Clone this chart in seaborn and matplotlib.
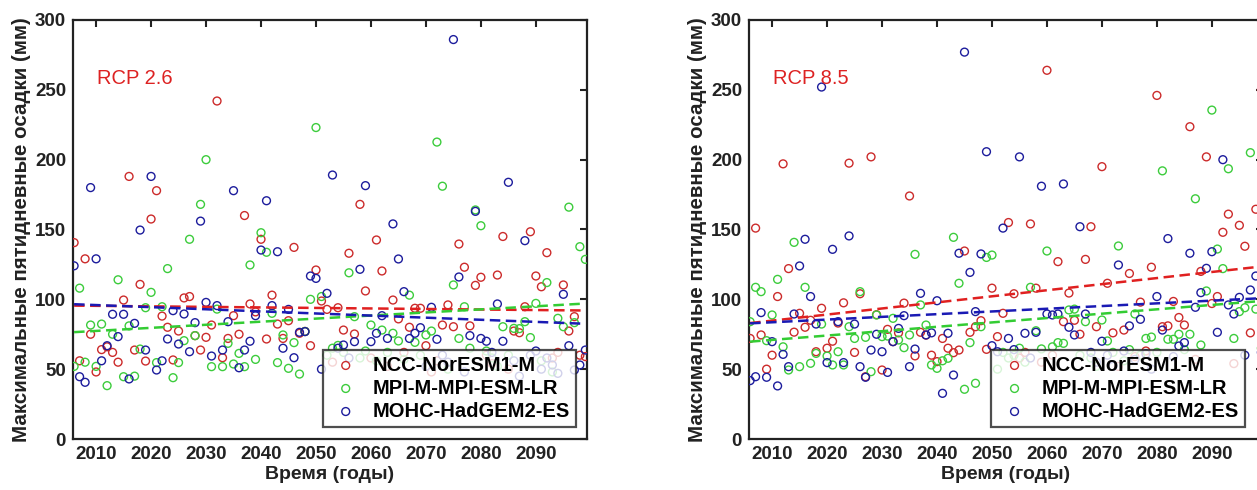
import numpy as np
import pandas as pd
import matplotlib
matplotlib.use("Agg")
import matplotlib.pyplot as plt
import seaborn as sns

# ---------------- data ----------------
years = list(range(2006, 2100))
models = ["NCC-NorESM1-M", "MPI-M-MPI-ESM-LR", "MOHC-HadGEM2-ES"]

rcp26_ncc = [140.6, 56, 129, 75, 48, 64, 66, 62, 55, 99.5, 188, 63.7, 110.7, 55.8, 157.5, 177.8, 88, 80, 56.6, 77.3,
             101, 102, 74, 63.7, 72.8, 81.6, 242, 58.2, 72, 88.3, 75, 160, 96.7, 91, 143, 71.6, 103, 82.3, 72, 84.7,
             137.2, 75.7, 77, 66.8, 121, 98.8, 92.8, 55, 94, 78, 133, 75.2, 168, 106, 58, 142.5, 120.3, 52, 99.5, 86,
             62, 80, 93.6, 93.6, 66.8, 48, 56, 81.6, 96, 80.4, 139.6, 123, 81, 110, 115.8, 60, 54, 117.4, 145, 50,
             77.3, 76.1, 94.7, 148.4, 116.7, 109, 133.4, 58, 62, 110.3, 77.3, 87.6, 60, 59]
rcp26_mpi = [52, 108, 55, 81.6, 52, 82.3, 38.2, 75, 114, 44.6, 81, 45, 64.4, 94, 105, 54.7, 94.7, 122, 43.9, 54.7,
             70.4, 143, 74, 168, 200, 51.8, 93, 51.8, 68.5, 53.7, 61.3, 51.8, 124.6, 57, 147.7, 133.7, 90, 54.7, 74.5, 50.6,
             69, 46.5, 77, 100, 223, 102, 60, 65, 67, 62, 119, 87.6, 58, 63, 81.6, 56, 78, 62, 75.7, 70.2,
             57, 103, 69.2, 60, 74.5, 77.3, 212.6, 181, 50, 110.3, 72, 94.7, 65, 164, 152.7, 63, 58, 52, 80.4, 60,
             79.2, 79, 84, 72.6, 97.1, 56, 112, 48, 86.4, 80.4, 166, 83.3, 137.7, 128.6]
rcp26_mohc = [124, 44.6, 40.6, 180, 129, 56, 66.8, 89.3, 73.3, 89.3, 43, 82.8, 149.6, 63.7, 188, 49.4, 56, 71.6, 91.9, 68,
              89.5, 62.5, 83.3, 156, 97.8, 59.4, 95.5, 63.7, 84, 177.8, 51, 63.7, 70, 88.3, 135.3, 170.6, 95.5, 134.1, 65, 92.8,
              58.2, 76.4, 76.9, 116.7, 115, 50, 104.3, 189, 65, 67.3, 58, 69.7, 121.5, 181.4, 69.7, 75.7, 88.3, 72, 154, 128.9,
              105.5, 72, 75.7, 79.7, 52, 94.3, 71.4, 60, 55, 286, 116, 48, 74, 163, 72, 70, 62, 96.7, 70, 183.8,
              56, 45, 142, 60, 63, 50, 58, 53, 47, 103.6, 66.8, 49.4, 53, 63.7]

rcp85_ncc = [72, 151, 74.5, 50, 60, 102, 197, 122, 76.5, 90, 80, 85, 62.5, 93.6, 65, 70, 83, 97.5, 197.5, 62,
             104, 44.6, 202, 89, 49.4, 78.5, 69.7, 76, 97.3, 174, 59.5, 76.4, 74.4, 60, 55.4, 72, 65, 61.8, 63.7, 134.6,
             76.4, 80.4, 84.7, 64.2, 108, 73.3, 90, 155, 104, 58, 62, 154, 108, 55, 264, 60, 127, 84, 104.5, 85,
             75, 128.6, 152, 80.4, 195, 111.5, 76, 52, 78, 118.5, 59, 98, 63, 123, 246, 80.4, 81, 98.5, 87, 81.6,
             223.6, 57, 120, 202, 97, 102, 148, 161, 54, 153, 138, 76, 164.5, 250]
rcp85_mpi = [84, 108.6, 105.5, 70.4, 88.8, 114.3, 66, 49.4, 140.8, 51.8, 108.6, 54.2, 61.3, 82.3, 59.4, 53, 62.5, 53, 80.4, 72,
             105.5, 72.8, 48.2, 88.8, 73.3, 73.7, 86.4, 70.9, 65.4, 74.5, 132.2, 96, 81.6, 53, 50.6, 56, 57.8, 144.4, 111.5, 35.6,
             69, 39.9, 80.4, 130, 131.7, 50, 62, 58, 60, 65, 55, 108.6, 77.5, 64.5, 134.6, 66, 69, 68.5, 92.4, 93,
             60, 84, 58, 52, 85.2, 70.2, 62, 138.2, 56, 64, 89.5, 60, 72, 73, 62, 192, 71.4, 71.4, 75, 64,
             75, 172, 67.3, 106, 235.5, 136, 122, 193.5, 72, 91.2, 94, 205, 93, 65]
rcp85_mohc = [41.8, 44.6, 90.5, 44.2, 69.7, 38, 60.6, 51.8, 89.5, 123.9, 143, 102, 82.3, 252, 54.7, 135.8, 84, 54.7, 145.4, 82.3,
              51.8, 44.2, 63.7, 75, 62.5, 47.7, 69.7, 79.2, 88.3, 51.8, 64.4, 104.3, 74.5, 76, 99, 32.7, 75.7, 45.8, 133, 277,
              119.3, 91.2, 132.5, 205.7, 66.8, 62.5, 151, 72, 64, 202, 75.7, 58, 76.4, 181, 89.5, 88.8, 89.5, 182.6, 80, 74.5,
              152, 89.5, 62, 55, 70, 60, 52, 124.6, 63, 81, 57, 85.7, 61, 50, 102, 78, 143.5, 59, 66.6, 69,
              133, 94.3, 104.8, 122.2, 134.1, 76.4, 200, 96, 89.5, 101.4, 60, 106.7, 116.7, 62]

# linear trend values at the first and last year (2006, 2099)
trend_years = [2006, 2099]
trend26_ncc = [95.5, 92.0]
trend26_mpi = [76.5, 97.0]
trend26_mohc = [96.5, 82.5]
trend85_ncc = [83.0, 123.5]
trend85_mpi = [69.7, 98.8]
trend85_mohc = [82.8, 100.8]

scenario_labels = ["RCP 2.6", "RCP 8.5"]
xticks = [2010, 2020, 2030, 2040, 2050, 2060, 2070, 2080, 2090]
yticks = [0, 50, 100, 150, 200, 250, 300]
ylabel = "Максимальные пятидневные осадки (мм)"
xlabel = "Время (годы)"

# ---------------- style ----------------
sns.set_theme(style="white")
plt.rcParams["font.family"] = ["Liberation Sans", "DejaVu Sans"]
plt.rcParams["axes.edgecolor"] = "#222222"

marker_colors = ["#cc2b2b", "#3ccc3c", "#1c1c9c"]
line_colors = ["#e02020", "#33cc33", "#1a1ab4"]

fig = plt.figure(figsize=(12.57, 4.9), dpi=100)
W, H = 1257.0, 490.0
ax1 = fig.add_axes([73 / W, 51 / H, 514 / W, 419 / H])
ax2 = fig.add_axes([749 / W, 51 / H, 514 / W, 419 / H])

panels = [
    (ax1, [rcp26_ncc, rcp26_mpi, rcp26_mohc], [trend26_ncc, trend26_mpi, trend26_mohc], scenario_labels[0],
     (0.979, 0.029)),
    (ax2, [rcp85_ncc, rcp85_mpi, rcp85_mohc], [trend85_ncc, trend85_mpi, trend85_mohc], scenario_labels[1],
     (0.965, 0.029)),
]

for ax, series, trends, lab, anchor in panels:
    for name, vals, col in zip(models, series, marker_colors):
        df = pd.DataFrame({"year": years, "value": vals})
        sns.scatterplot(data=df, x="year", y="value", ax=ax, marker="o", s=32,
                        facecolor="none", edgecolor=col, linewidth=1.0, label=name, zorder=3)
    for tr, col in zip(trends, line_colors):
        tdf = pd.DataFrame({"year": trend_years, "value": tr})
        sns.lineplot(data=tdf, x="year", y="value", ax=ax, color=col, linewidth=1.8,
                     linestyle=(0, (4.2, 2.2)), legend=False, zorder=4)
    ax.set_xlim(2005.8, 2099.3)
    ax.set_ylim(0, 300)
    ax.set_xticks(xticks)
    ax.set_yticks(yticks)
    ax.tick_params(direction="in", top=True, right=True, length=5, width=1.5,
                   labelsize=13.5, colors="#222222", pad=5)
    for t in ax.get_xticklabels() + ax.get_yticklabels():
        t.set_fontweight("bold")
    for sp in ax.spines.values():
        sp.set_linewidth(1.6)
        sp.set_color("#222222")
    ax.set_xlabel(xlabel, fontsize=14, fontweight="bold", color="#222222", labelpad=2)
    ax.set_ylabel(ylabel, fontsize=14.8, fontweight="bold", color="#222222", labelpad=3)
    ax.text(2010.1, 258, lab, color="#dd2222", fontsize=14.5, va="center", ha="left")
    leg = ax.legend(loc="lower right", bbox_to_anchor=anchor, borderaxespad=0, frameon=True,
                    fancybox=False, edgecolor="#222222", fontsize=14.5, handletextpad=0.5,
                    borderpad=0.3, labelspacing=0.2, handlelength=1.7, markerscale=1.0)
    leg.get_frame().set_linewidth(1.6)
    leg.get_frame().set_facecolor("white")
    leg.set_zorder(10)
    for t in leg.get_texts():
        t.set_fontweight("bold")
        t.set_color("black")

fig.savefig("out.png", dpi=100)
